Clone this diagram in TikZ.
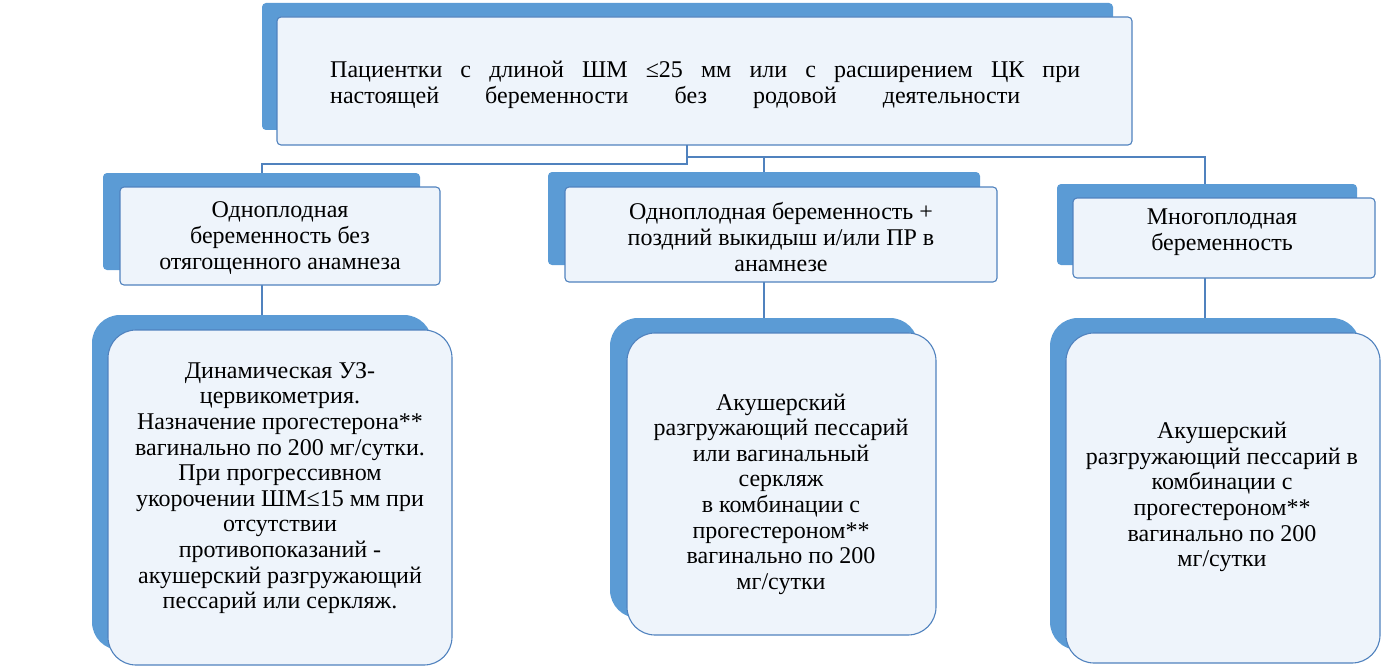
\documentclass[tikz,border=0pt]{standalone}
\usepackage{fontspec}
\setmainfont{Liberation Serif}
\definecolor{bblue}{RGB}{91,155,213}
\definecolor{lineb}{RGB}{80,130,190}
\definecolor{pale}{RGB}{238,244,251}
\begin{document}
\begin{tikzpicture}[x=1pt,y=-1pt,
  back/.style={fill=bblue,draw=none,rounded corners=4pt,inner sep=0pt},
  front/.style={fill=pale,draw=lineb,line width=1.1pt,rounded corners=4pt,inner sep=0pt},
  bback/.style={back,rounded corners=28pt},
  bfront/.style={front,rounded corners=28pt},
  txt/.style={align=center,font=\fontsize{24}{25.6}\selectfont,inner sep=0pt},
  conn/.style={draw=lineb,line width=1.1pt}]
\useasboundingbox (0,0) rectangle (1400,666);
% connectors
\coordinate (j) at (687,157);
\coordinate (jl) at (687,164);
\coordinate (jr) at (764,157);
\draw[conn] (687,130) -- (jl) -- (262,164) -- (262,175);
\draw[conn] (j) -- (1205,157) -- (1205,190);
\draw[conn] (jr) -- (764,175);
\draw[conn] (262,280) -- (262,320);
\draw[conn] (764,275) -- (764,322);
\draw[conn] (1205,275) -- (1205,322);
% top
\node[back,minimum width=851,minimum height=127] (tb) at (687.5,66.5) {};
\node[front,minimum width=855,minimum height=128] (tf) at (704.5,81) {};
\node[txt,align=left,anchor=west] (tt) at (330,85) {\hbox to 750pt{Пациентки с длиной ШМ ≤25 мм или с расширением ЦК при}\\\hbox to 690pt{настоящей беременности без родовой деятельности}};
% mid
\node[back,minimum width=317,minimum height=97] (lb) at (261.5,221.5) {};
\node[front,minimum width=320,minimum height=98] (lf) at (280,236) {};
\node[txt] (lt) at (280,238) {Одноплодная\\беременность без\\отягощенного анамнеза};
\node[back,minimum width=432,minimum height=93] (mb) at (764,218.5) {};
\node[front,minimum width=432,minimum height=95] (mf) at (781,234.5) {};
\node[txt] (mt) at (781,237) {Одноплодная беременность +\\поздний выкидыш и/или ПР в\\анамнезе};
\node[back,minimum width=300,minimum height=81] (rb) at (1207,224.5) {};
\node[front,minimum width=302,minimum height=80] (rf) at (1224,238) {};
\node[txt] (rt) at (1222,232) {Многоплодная\\беременность};
% bottom
\node[bback,minimum width=340,minimum height=335] (blb) at (262,482.5) {};
\node[bfront,minimum width=344,minimum height=335] (blf) at (280,497.5) {};
\node[txt] (blt) at (280,488) {Динамическая УЗ-\\цервикометрия.\\Назначение прогестерона**\\вагинально по 200 мг/сутки.\\При прогрессивном\\укорочении ШМ≤15 мм при\\отсутствии\\противопоказаний -\\акушерский разгружающий\\пессарий или серкляж.};
\node[bback,minimum width=308,minimum height=300] (bmb) at (764,468) {};
\node[bfront,minimum width=309,minimum height=302] (bmf) at (781.5,484) {};
\node[txt] (bmt) at (781,494) {Акушерский\\разгружающий пессарий\\или вагинальный\\серкляж\\в комбинации с\\прогестероном**\\вагинально по 200\\мг/сутки};
\node[bback,minimum width=310,minimum height=332] (brb) at (1205,484) {};
\node[bfront,minimum width=314,minimum height=330] (brf) at (1223,498) {};
\node[txt] (brt) at (1222,497) {Акушерский\\разгружающий пессарий в\\комбинации с\\прогестероном**\\вагинально по 200\\мг/сутки};
\end{tikzpicture}
\end{document}
